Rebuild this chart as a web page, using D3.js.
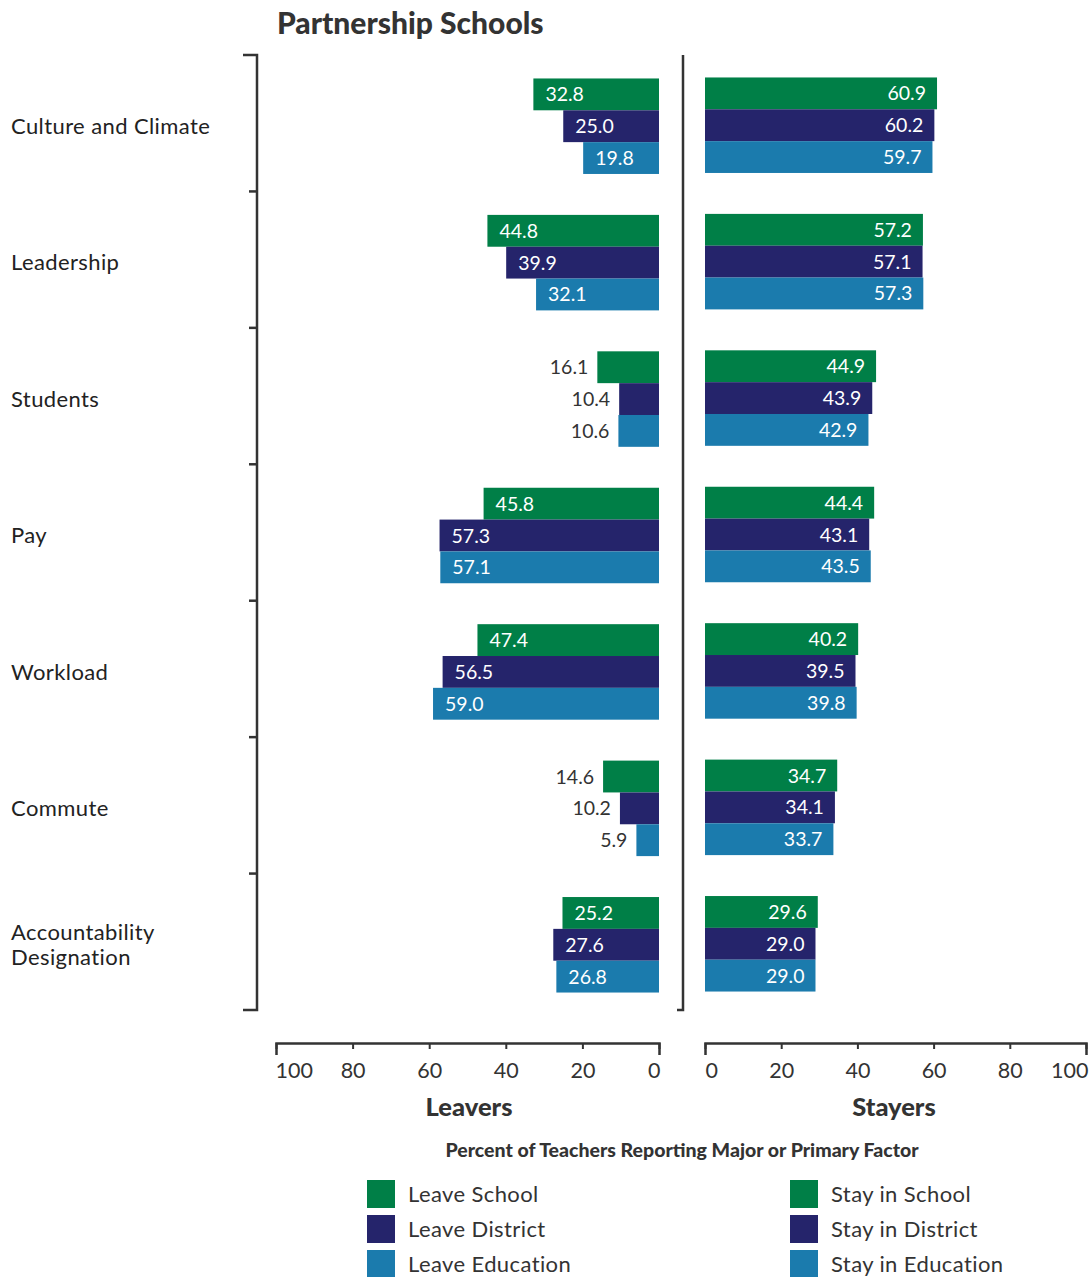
<!DOCTYPE html>
<html>
<head>
<meta charset="utf-8">
<script src="https://cdn.jsdelivr.net/npm/d3@7"></script>
<style>
  html, body { margin: 0; padding: 0; background: #fff; }
  svg { display: block; font-family: Lato, "Open Sans", sans-serif; }
</style>
</head>
<body>
<svg id="chart" width="1091" height="1277"></svg>
<script>
// Reasons teachers cite as a major or primary factor, Partnership Schools
const categories = ["Culture and Climate", "Leadership", "Students", "Pay", "Workload", "Commute", "Accountability Designation"];

const leaveSchool    = [32.8, 44.8, 16.1, 45.8, 47.4, 14.6, 25.2];
const leaveDistrict  = [25.0, 39.9, 10.4, 57.3, 56.5, 10.2, 27.6];
const leaveEducation = [19.8, 32.1, 10.6, 57.1, 59.0, 5.9, 26.8];

const staySchool     = [60.9, 57.2, 44.9, 44.4, 40.2, 34.7, 29.6];
const stayDistrict   = [60.2, 57.1, 43.9, 43.1, 39.5, 34.1, 29.0];
const stayEducation  = [59.7, 57.3, 42.9, 43.5, 39.8, 33.7, 29.0];

const leaverSeries = ["Leave School", "Leave District", "Leave Education"];
const stayerSeries = ["Stay in School", "Stay in District", "Stay in Education"];
const tickValues = [0, 20, 40, 60, 80, 100];

const colors = ["#007f47", "#25246b", "#1b7bad"];
const ink = "#333333";

const svg = d3.select("#chart");

// Scales
const xLeft = d3.scaleLinear().domain([0, 100]).range([659, 276]);
const xRight = d3.scaleLinear().domain([0, 100]).range([705, 1086]);
const yCat = d3.scaleBand().domain(categories).range([55, 1010]);
const yGroup = d3.scaleBand().domain(categories).range([58, 1013]).paddingInner(0.3).paddingOuter(0.15);
const ySeries = d3.scaleBand().domain([0, 1, 2]).range([0, yGroup.bandwidth()]);

// Title
svg.append("text")
  .attr("x", 277).attr("y", 34)
  .attr("font-size", 30).attr("font-weight", 900)
  .attr("fill", ink)
  .text("Partnership Schools");

// Bracket axis for categories
const bracket = svg.append("g").attr("stroke", ink).attr("stroke-width", 2.5).attr("fill", "none");
const y0 = yCat.range()[0], y1 = yCat.range()[1];
bracket.append("path").attr("d", `M243,${y0}H257V${y1}H243`);
const boundaries = categories.slice(1).map(c => yCat(c));
bracket.selectAll("line.inner").data(boundaries).join("line")
  .attr("x1", 249).attr("x2", 257)
  .attr("y1", d => d).attr("y2", d => d);

// Divider between leavers and stayers
svg.append("path")
  .attr("d", `M683,${y0}V${y1}H677`)
  .attr("stroke", ink).attr("stroke-width", 2.5).attr("fill", "none");

// Category labels (long names wrap onto two lines)
const catLabels = svg.append("g").attr("font-size", 22).attr("letter-spacing", 0.4).attr("fill", "#222");
const lineGap = 25;
categories.forEach(c => {
  const cy = yGroup(c) + yGroup.bandwidth() / 2;
  const words = c === "Accountability Designation" ? ["Accountability", "Designation"] : [c];
  words.forEach((w, i) => {
    catLabels.append("text")
      .attr("x", 11)
      .attr("y", cy + (i - (words.length - 1) / 2) * lineGap)
      .attr("dy", "0.35em")
      .text(w);
  });
});

// Bars
const leaveData = [leaveSchool, leaveDistrict, leaveEducation];
const stayData = [staySchool, stayDistrict, stayEducation];

const rows = [];
categories.forEach((c, ci) => {
  [0, 1, 2].forEach(si => {
    rows.push({ cat: c, s: si, leave: leaveData[si][ci], stay: stayData[si][ci] });
  });
});

const barH = ySeries.bandwidth();
const yPos = d => yGroup(d.cat) + ySeries(d.s);

svg.append("g").selectAll("rect").data(rows).join("rect")
  .attr("x", d => xLeft(d.leave))
  .attr("y", yPos)
  .attr("width", d => xLeft(0) - xLeft(d.leave))
  .attr("height", barH)
  .attr("fill", d => colors[d.s]);

svg.append("g").selectAll("rect").data(rows).join("rect")
  .attr("x", xRight(0))
  .attr("y", d => yPos(d) - 1)
  .attr("width", d => xRight(d.stay) - xRight(0))
  .attr("height", barH)
  .attr("fill", d => colors[d.s]);

// Value labels: inside the bar when it is long enough, otherwise beside it
const fmt = d3.format(".1f");
const fits = d => (xLeft(0) - xLeft(d.leave)) > 70;
svg.append("g").attr("font-size", 19.5).selectAll("text").data(rows).join("text")
  .attr("x", d => fits(d) ? xLeft(d.leave) + 12 : xLeft(d.leave) - 9)
  .attr("y", d => yPos(d) + barH / 2)
  .attr("dy", "0.36em")
  .attr("text-anchor", d => fits(d) ? "start" : "end")
  .attr("fill", d => fits(d) ? "#fff" : ink)
  .text(d => fmt(d.leave));

svg.append("g").attr("font-size", 19.5).selectAll("text").data(rows).join("text")
  .attr("x", d => xRight(d.stay) - 11)
  .attr("y", d => yPos(d) - 1 + barH / 2)
  .attr("dy", "0.36em")
  .attr("text-anchor", "end")
  .attr("fill", "#fff")
  .text(d => fmt(d.stay));

// Bottom axes
function drawAxis(scale, flip) {
  const g = svg.append("g").attr("transform", "translate(0,1043)")
    .call(d3.axisBottom(scale).tickValues(tickValues).tickSizeInner(6).tickSizeOuter(12).tickPadding(14).tickFormat(d3.format("d")));
  g.select(".domain").attr("stroke", ink).attr("stroke-width", 2.5);
  g.selectAll(".tick line").attr("stroke", ink).attr("stroke-width", 2);
  g.selectAll(".tick text")
    .attr("font-size", 21.5).attr("fill", ink).attr("font-family", "Lato, sans-serif")
    .attr("text-anchor", d => {
      if (d === 0) return flip ? "end" : "start";
      if (d === 100) return flip ? "start" : "end";
      return "middle";
    })
    .attr("dx", d => d === 0 ? (flip ? 1 : 0) : (d === 100 ? (flip ? -1 : 2) : 0));
  return g;
}
drawAxis(xLeft, true);
drawAxis(xRight, false);

svg.append("text").attr("x", 469).attr("y", 1116)
  .attr("text-anchor", "middle").attr("font-size", 25.5).attr("font-weight", 900)
  .attr("fill", ink).text("Leavers");
svg.append("text").attr("x", 894).attr("y", 1116)
  .attr("text-anchor", "middle").attr("font-size", 25.5).attr("font-weight", 900)
  .attr("fill", ink).text("Stayers");

svg.append("text").attr("x", 682).attr("y", 1157)
  .attr("text-anchor", "middle").attr("font-size", 19.5).attr("font-weight", 900)
  .attr("fill", ink)
  .text("Percent of Teachers Reporting Major or Primary Factor");

// Legend
function legend(names, x) {
  const g = svg.append("g").attr("transform", `translate(${x},1180)`);
  const items = g.selectAll("g").data(names).join("g")
    .attr("transform", (d, i) => `translate(0,${i * 35})`);
  items.append("rect").attr("width", 28).attr("height", 28).attr("fill", (d, i) => colors[i]);
  items.append("text").attr("x", 41).attr("y", 14).attr("dy", "0.36em")
    .attr("font-size", 22).attr("letter-spacing", 0.4).attr("fill", ink).text(d => d);
}
legend(leaverSeries, 367);
legend(stayerSeries, 790);
</script>
</body>
</html>
